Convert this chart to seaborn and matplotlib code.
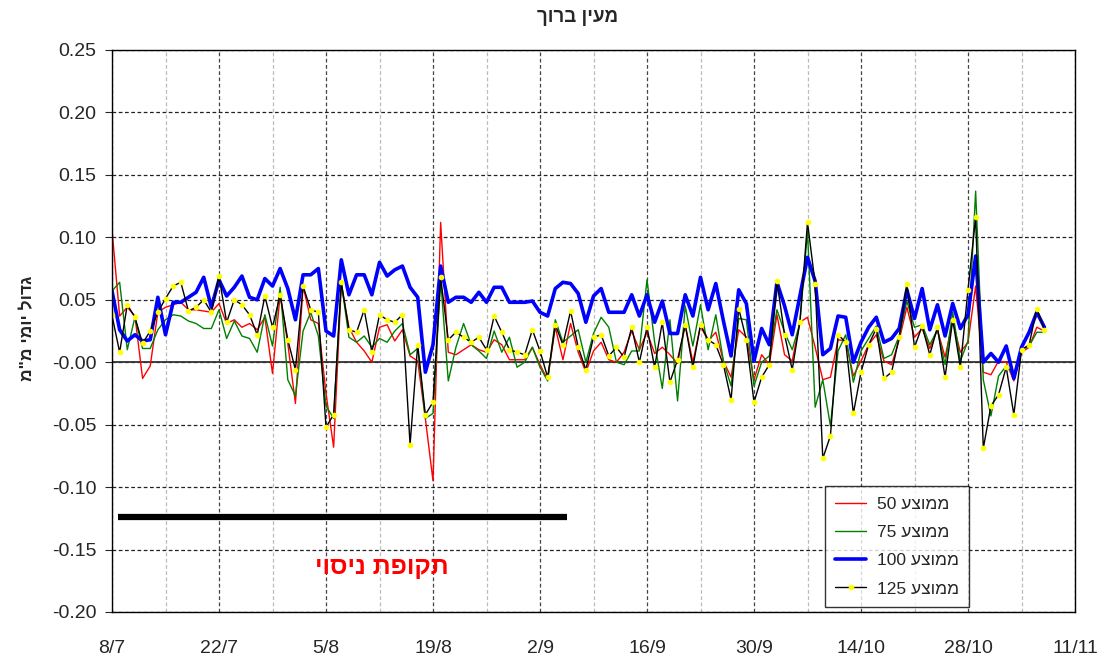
import numpy as np
import pandas as pd
import matplotlib
matplotlib.use("Agg")
import matplotlib.pyplot as plt
import matplotlib.dates as mdates
from matplotlib.ticker import FuncFormatter, FixedLocator
import seaborn as sns

# ---------------------------------------------------------------------------
# Data (daily values, 8/7 .. 6/11)
# ---------------------------------------------------------------------------
START = "2009-07-08"
END = "2009-11-11"

AVG50 = [0.106, 0.037, 0.044, 0.037, -0.013, -0.003, 0.040, 0.044, 0.046, 0.048,
         0.042, 0.042, 0.041, 0.040, 0.047, 0.031, 0.034, 0.028, 0.031, 0.026,
         0.036, -0.009, 0.054, 0.015, -0.033, 0.061, 0.034, 0.031, -0.025, -0.068,
         0.062, 0.028, 0.016, 0.009, 0.000, 0.028, 0.030, 0.017, 0.026, 0.005,
         0.001, -0.045, -0.095, 0.112, 0.008, 0.006, 0.010, 0.014, 0.010, 0.008,
         0.018, 0.014, 0.002, 0.002, 0.002, 0.012, -0.002, -0.014, 0.028, 0.002,
         0.031, 0.008, -0.008, 0.009, 0.016, 0.002, 0.000, 0.008, 0.025, 0.010,
         0.024, 0.007, 0.012, 0.006, -0.001, 0.030, 0.000, 0.029, 0.017, 0.024,
         0.001, -0.012, 0.026, 0.020, -0.014, 0.006, -0.002, 0.038, 0.006, 0.001,
         0.032, 0.036, 0.012, -0.014, -0.012, 0.018, 0.017, -0.011, 0.001, 0.014,
         0.022, 0.001, -0.002, 0.018, 0.044, 0.020, 0.027, 0.011, 0.026, 0.004,
         0.033, 0.008, 0.016, 0.061, -0.008, -0.010, 0.001, 0.000, -0.015, 0.008,
         0.012, 0.028, 0.025]

AVG75 = [0.057, 0.064, 0.010, 0.036, 0.011, 0.011, 0.026, 0.034, 0.038, 0.037,
         0.033, 0.031, 0.027, 0.027, 0.042, 0.019, 0.033, 0.021, 0.019, 0.008,
         0.038, 0.013, 0.060, -0.014, -0.027, 0.025, 0.040, 0.021, -0.035, -0.045,
         0.064, 0.020, 0.016, 0.021, 0.012, 0.019, 0.016, 0.025, 0.031, 0.006,
         0.011, -0.045, -0.041, 0.066, -0.015, 0.012, 0.031, 0.014, 0.009, 0.003,
         0.025, 0.008, 0.020, -0.004, 0.000, 0.012, -0.004, -0.015, 0.034, 0.016,
         0.021, 0.026, 0.000, 0.023, 0.036, 0.028, 0.000, -0.002, 0.009, 0.009,
         0.066, 0.016, -0.021, 0.034, -0.031, 0.045, 0.013, 0.046, 0.010, 0.038,
         0.001, -0.019, 0.035, 0.034, -0.019, 0.000, 0.005, 0.042, 0.024, 0.010,
         0.031, 0.105, -0.036, -0.014, -0.051, 0.009, 0.022, -0.016, 0.009, 0.019,
         0.029, 0.003, 0.006, 0.021, 0.049, 0.028, 0.030, 0.014, 0.026, -0.002,
         0.040, 0.001, 0.017, 0.137, -0.014, -0.043, -0.011, -0.003, -0.010, 0.010,
         0.013, 0.024, 0.024]

AVG100 = [0.057, 0.026, 0.017, 0.022, 0.017, 0.018, 0.052, 0.022, 0.048, 0.048,
          0.052, 0.056, 0.068, 0.044, 0.066, 0.053, 0.060, 0.069, 0.052, 0.050,
          0.067, 0.061, 0.075, 0.059, 0.034, 0.070, 0.070, 0.075, 0.025, 0.021,
          0.082, 0.054, 0.070, 0.070, 0.054, 0.080, 0.069, 0.074, 0.077, 0.060,
          0.052, -0.008, 0.014, 0.077, 0.048, 0.052, 0.052, 0.048, 0.056, 0.048,
          0.060, 0.060, 0.048, 0.048, 0.048, 0.049, 0.040, 0.037, 0.059, 0.064,
          0.063, 0.055, 0.032, 0.053, 0.059, 0.040, 0.040, 0.040, 0.054, 0.037,
          0.054, 0.032, 0.049, 0.023, 0.023, 0.054, 0.037, 0.068, 0.042, 0.063,
          0.033, 0.005, 0.058, 0.047, 0.001, 0.027, 0.014, 0.064, 0.045, 0.022,
          0.053, 0.084, 0.065, 0.006, 0.011, 0.037, 0.036, 0.000, 0.016, 0.028,
          0.036, 0.016, 0.019, 0.027, 0.058, 0.035, 0.059, 0.026, 0.046, 0.021,
          0.047, 0.027, 0.038, 0.085, 0.000, 0.007, 0.000, 0.013, -0.013, 0.012,
          0.024, 0.040, 0.028]

AVG125 = [0.0375, 0.008, 0.046, 0.036, 0.015, 0.025, 0.040, 0.051, 0.061, 0.064,
          0.041, 0.044, 0.050, 0.040, 0.069, 0.032, 0.050, 0.046, 0.038, 0.022,
          0.053, 0.028, 0.054, 0.018, -0.006, 0.061, 0.042, 0.040, -0.052, -0.042,
          0.064, 0.026, 0.024, 0.042, 0.008, 0.038, 0.034, 0.032, 0.038, -0.066,
          0.014, -0.042, -0.032, 0.068, 0.018, 0.024, 0.020, 0.016, 0.020, 0.010,
          0.037, 0.024, 0.010, 0.008, 0.006, 0.026, 0.009, -0.012, 0.030, 0.014,
          0.041, 0.012, -0.006, 0.020, 0.022, 0.005, 0.012, 0.004, 0.028, 0.000,
          0.028, -0.004, 0.032, -0.016, 0.002, 0.030, -0.004, 0.030, 0.018, 0.014,
          -0.002, -0.030, 0.043, 0.018, -0.032, -0.012, -0.002, 0.065, 0.022, -0.006,
          0.032, 0.112, 0.063, -0.077, -0.059, 0.022, 0.016, -0.041, -0.008, 0.014,
          0.027, -0.013, -0.008, 0.020, 0.063, 0.012, 0.029, 0.006, 0.028, -0.012,
          0.034, -0.004, 0.058, 0.116, -0.069, -0.035, -0.026, -0.004, -0.042, 0.010,
          0.014, 0.043, 0.026]

# trial period marker
TRIAL_START = "2009-07-08 20:00"
TRIAL_END = "2009-09-05 12:00"
TRIAL_LEVEL = -0.124
TRIAL_LABEL_DATE = "2009-08-12 08:00"
TRIAL_LABEL_LEVEL = -0.164

TITLE = "מעין ברוך"
YLABEL = 'גדול יומי מ"מ'
TRIAL_TEXT = "תקופת ניסוי"
LEGEND_WORD = "ממוצע"


def rtl(s):
    """matplotlib lays text out left-to-right, so flip Hebrew runs."""
    return s[::-1]


def legend_label(n):
    return f"{n} {rtl(LEGEND_WORD)}"


# ---------------------------------------------------------------------------
# Plot
# ---------------------------------------------------------------------------
sns.set_style("white")
plt.rcParams["font.family"] = ["Liberation Sans", "DejaVu Sans"]

dates = pd.date_range(START, periods=len(AVG50), freq="D")

fig = plt.figure(figsize=(11.04, 6.61), dpi=100)
ax = fig.add_axes([112 / 1104, 1 - 612 / 661, (1075 - 112) / 1104, 562 / 661])

sns.lineplot(x=dates, y=AVG50, ax=ax, color="red", lw=1.0,
             label=legend_label(50), estimator=None)
sns.lineplot(x=dates, y=AVG75, ax=ax, color="green", lw=1.0,
             label=legend_label(75), estimator=None)
sns.lineplot(x=dates, y=AVG100, ax=ax, color="blue", lw=2.6,
             label=legend_label(100), estimator=None)
sns.lineplot(x=dates, y=AVG125, ax=ax, color="black", lw=1.0,
             marker="o", markersize=3.3, markerfacecolor="yellow",
             markeredgecolor="yellow", label=legend_label(125), estimator=None)

# trial period bar + label
ax.plot(pd.to_datetime([TRIAL_START, TRIAL_END]), [TRIAL_LEVEL, TRIAL_LEVEL],
        color="black", lw=4.5, solid_capstyle="butt")
ax.text(pd.Timestamp(TRIAL_LABEL_DATE), TRIAL_LABEL_LEVEL, rtl(TRIAL_TEXT),
        color="red", fontsize=18, fontweight="bold", ha="center", va="center")

# axes ranges / ticks
ax.set_xlim(pd.Timestamp(START), pd.Timestamp(END))
ax.set_ylim(-0.20, 0.25)
ax.set_yticks(np.round(np.arange(-0.20, 0.2501, 0.05), 2))
ax.yaxis.set_major_formatter(FuncFormatter(lambda v, p: f"{v:.2f}"))

major = pd.date_range(START, END, freq="14D")
minor = pd.date_range(pd.Timestamp(START) + pd.Timedelta(days=7), END, freq="14D")
ax.xaxis.set_major_locator(FixedLocator(mdates.date2num(major)))
ax.xaxis.set_minor_locator(FixedLocator(mdates.date2num(minor)))
ax.xaxis.set_major_formatter(FuncFormatter(
    lambda v, p: f"{mdates.num2date(v).day}/{mdates.num2date(v).month}"))

ax.tick_params(axis="x", which="major", labelsize=14, pad=20, length=0)
ax.tick_params(axis="x", which="minor", length=0)
ax.tick_params(axis="y", labelsize=14, pad=6, length=5, direction="out",
               left=True)

# grid
ax.yaxis.grid(True, ls=(0, (3, 2)), color="#222222", lw=0.9)
ax.xaxis.grid(True, which="major", ls=(0, (3, 2)), color="#444444", lw=0.9)
ax.xaxis.grid(True, which="minor", ls=(0, (3, 2)), color="#bbbbbb", lw=0.9)
ax.set_axisbelow(True)
ax.axhline(0, color="#333333", lw=1.3, zorder=1.5)

for sp in ax.spines.values():
    sp.set_visible(True)
    sp.set_color("black")
    sp.set_linewidth(1.0)

ax.set_xlabel("")
ax.set_ylabel("")

# titles
fig.text(578 / 1104, 1 - 18 / 661, rtl(TITLE), ha="center", va="center",
         fontsize=13.5, fontweight="bold")
fig.text(28 / 1104, 1 - 328 / 661, rtl(YLABEL), ha="center", va="center",
         rotation=90, fontsize=12.5, fontweight="bold")

# legend
leg = ax.legend(loc="lower left", bbox_to_anchor=(0.74, 0.009), fontsize=12.5,
                frameon=True, fancybox=False, handlelength=1.8, numpoints=1,
                labelspacing=0.75, borderpad=0.6, handletextpad=0.6,
                borderaxespad=0)
leg.get_frame().set_edgecolor("black")
leg.get_frame().set_linewidth(1.0)

fig.savefig("out.png", dpi=100)
plt.close(fig)
